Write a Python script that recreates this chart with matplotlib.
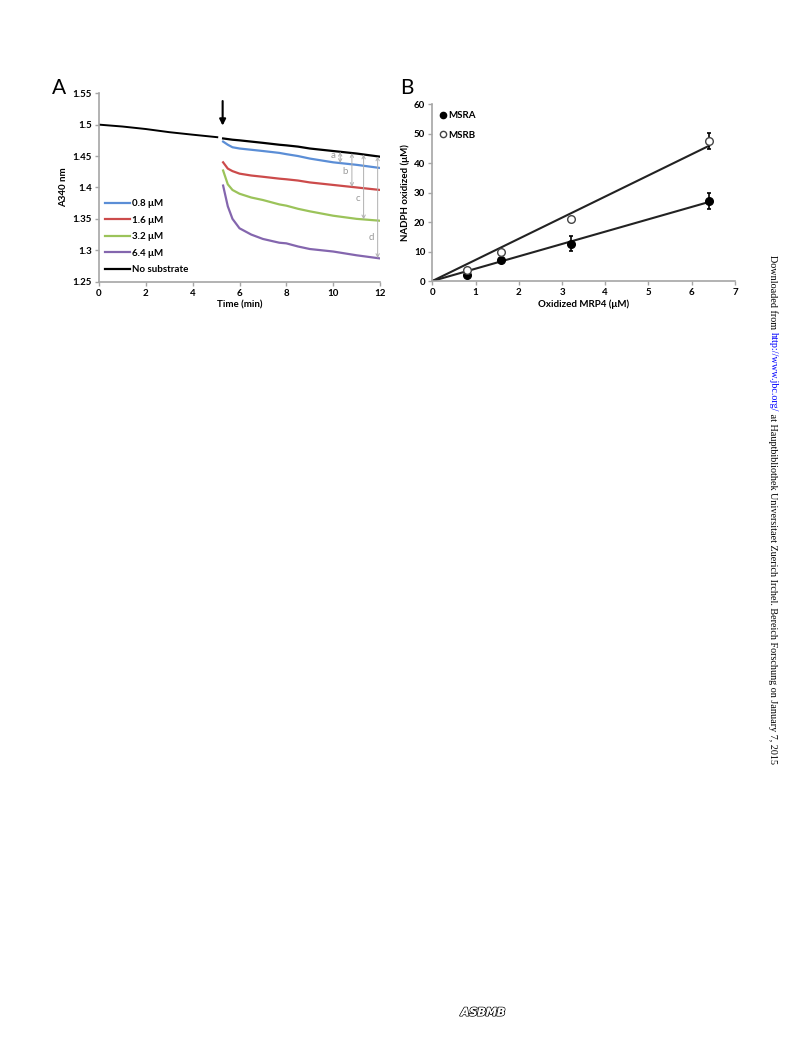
import numpy as np
import matplotlib
matplotlib.use("Agg")
import matplotlib.pyplot as plt
import matplotlib.patheffects as pe
from matplotlib.lines import Line2D

plt.rcParams['font.family'] = ['Lato', 'DejaVu Sans']

# ---- panel A data (A340 traces) ----
t_pre = [0, 1, 2, 3, 4, 5.05]
a_pre = [1.500, 1.497, 1.493, 1.488, 1.484, 1.480]

t_post = [5.3, 5.5, 5.7, 6.0, 6.5, 7.0, 7.7, 8.0, 8.5, 9.0, 10.0, 11.0, 12.0]
no_sub = [1.478, 1.477, 1.476, 1.475, 1.473, 1.471, 1.468, 1.467, 1.465, 1.462, 1.458, 1.454, 1.449]
c08 = [1.473, 1.468, 1.464, 1.462, 1.460, 1.458, 1.455, 1.453, 1.450, 1.446, 1.440, 1.436, 1.431]
c16 = [1.440, 1.430, 1.426, 1.422, 1.419, 1.417, 1.414, 1.413, 1.411, 1.408, 1.404, 1.400, 1.396]
c32 = [1.427, 1.405, 1.396, 1.390, 1.384, 1.380, 1.373, 1.371, 1.366, 1.362, 1.355, 1.350, 1.347]
c64 = [1.403, 1.370, 1.350, 1.335, 1.325, 1.318, 1.312, 1.311, 1.306, 1.302, 1.298, 1.292, 1.287]
series_labels = ['0.8 \u03bcM', '1.6 \u03bcM', '3.2 \u03bcM', '6.4 \u03bcM', 'No substrate']
series_colors = ['#5B8ED6', '#CC4B4B', '#9BC35A', '#8466AE', 'black']

# difference arrows a-d
diff_t = [10.3, 10.8, 11.3, 11.9]
diff_names = ['a', 'b', 'c', 'd']

# ---- panel B data ----
mrp4 = np.array([0.8, 1.6, 3.2, 6.4])
msra = np.array([2.0, 7.0, 12.7, 27.3])
msra_err = np.array([0.6, 0.6, 2.6, 2.7])
msrb = np.array([3.8, 10.0, 21.0, 47.5])
msrb_err = np.array([0.6, 0.6, 0.8, 2.7])

fig = plt.figure(figsize=(7.92, 10.44), dpi=100)
fs = 7
gray = '#a6a6a6'

# ================= panel A =================
axA = fig.add_axes([0.125, 0.7302, 0.3548, 0.1805])
axA.plot(t_pre, a_pre, color='black', lw=1.4)
traces = [c08, c16, c32, c64, no_sub]
for y, lab, col in zip(traces, series_labels, series_colors):
    axA.plot(t_post, y, color=col, lw=1.6, label=lab)

axA.set_xlim(0, 12)
axA.set_ylim(1.25, 1.55)
axA.set_xticks(range(0, 13, 2))
axA.set_yticks(np.arange(1.25, 1.551, 0.05))
axA.set_yticklabels(['1.25', '1.3', '1.35', '1.4', '1.45', '1.5', '1.55'])
axA.set_xlabel('Time (min)', fontsize=fs, fontweight='bold', labelpad=2)
axA.set_ylabel('A340 nm', fontsize=fs, fontweight='bold', labelpad=3)

# addition arrow
axA.annotate('', xy=(5.28, 1.494), xytext=(5.28, 1.542),
             arrowprops=dict(arrowstyle='-|>', color='black', lw=1.5, mutation_scale=9))

# difference arrows
for tt, lower in zip(diff_t, [c08, c16, c32, c64]):
    top = np.interp(tt, t_post, no_sub)
    bot = np.interp(tt, t_post, lower)
    axA.annotate('', xy=(tt, bot), xytext=(tt, top),
                 arrowprops=dict(arrowstyle='<->', color='#b0b0b0', lw=0.7, mutation_scale=6,
                                 shrinkA=0, shrinkB=0))
for (lx, ly), name in zip([(10.0, 1.451), (10.5, 1.426), (11.05, 1.383), (11.62, 1.320)], diff_names):
    axA.text(lx, ly, name, fontsize=fs, color='#9a9a9a', ha='center', va='center')

leg = axA.legend(loc='upper left', bbox_to_anchor=(0.0, 0.47), frameon=False, fontsize=fs,
                 handlelength=2.6, handletextpad=0.2, labelspacing=0.78, borderaxespad=0.2)
for txt in leg.get_texts():
    txt.set_fontweight('bold')

# ================= panel B =================
axB = fig.add_axes([0.5458, 0.7308, 0.3822, 0.1693])
kA = np.sum(mrp4 * msra) / np.sum(mrp4 ** 2)
kB = np.sum(mrp4 * msrb) / np.sum(mrp4 ** 2)
xs = np.array([0, mrp4.max()])
axB.plot(xs, kB * xs, color='#222222', lw=1.5)
axB.plot(xs, kA * xs, color='#222222', lw=1.5)
axB.errorbar(mrp4, msra, yerr=msra_err, fmt='o', color='black', ms=5.5, capsize=1.5,
             elinewidth=1.2, capthick=1.2, zorder=3)
axB.errorbar(mrp4, msrb, yerr=msrb_err, fmt='o', color='black', mfc='white', mec='#444444',
             ms=5.5, capsize=1.5, elinewidth=1.2, capthick=1.2, zorder=3)
axB.set_xlim(0, 7)
axB.set_ylim(0, 60)
axB.set_xticks(range(0, 8))
axB.set_yticks(range(0, 61, 10))
axB.set_xlabel('Oxidized MRP4 (\u03bcM)', fontsize=fs, fontweight='bold', labelpad=2)
axB.set_ylabel('NADPH oxidized (\u03bcM)', fontsize=fs, fontweight='bold', labelpad=3)
handles = [Line2D([], [], ls='none', marker='o', color='black', ms=4.5),
           Line2D([], [], ls='none', marker='o', mfc='white', mec='#444444', ms=4.5)]
legB = axB.legend(handles, ['MSRA', 'MSRB'], loc='upper left', bbox_to_anchor=(0.0, 1.0),
                  frameon=False, fontsize=fs, handlelength=0.8, handletextpad=0.15,
                  labelspacing=1.1, borderaxespad=0.3)
for txt in legB.get_texts():
    txt.set_fontweight('bold')

for ax in (axA, axB):
    for s in ('top', 'right'):
        ax.spines[s].set_visible(False)
    for s in ('left', 'bottom'):
        ax.spines[s].set_color(gray)
        ax.spines[s].set_linewidth(1.2)
    ax.tick_params(labelsize=fs, length=3, width=1, color=gray, pad=2)
    for lab in ax.get_xticklabels() + ax.get_yticklabels():
        lab.set_fontweight('bold')

# panel letters
fig.text(0.066, 0.916, 'A', fontsize=15, ha='left', va='center')
fig.text(0.505, 0.916, 'B', fontsize=15, ha='left', va='center')

# side note
side_parts = [('Downloaded from ', 'black'), ('http://www.jbc.org/', 'blue'),
              (' at Hauptbibliothek Universitaet Zuerich Irchel. Bereich Forschung on January 7, 2015', 'black')]
fig.canvas.draw()
renderer = fig.canvas.get_renderer()
ypix = 255
for s, col in side_parts:
    t = fig.text(773 / 792, 1 - ypix / 1044, s, fontsize=7.3, family='Liberation Serif', color=col,
                 rotation=270, ha='center', va='top')
    bb = t.get_window_extent(renderer)
    ypix += bb.height

# ASBMB mark
fig.text(0.61, 0.03, 'ASBMB', fontsize=8, fontweight='bold', style='italic', ha='center',
         va='center', color='white', family='DejaVu Sans',
         path_effects=[pe.withStroke(linewidth=1.2, foreground='black'), pe.Normal()])

fig.savefig('out.png', dpi=100)
